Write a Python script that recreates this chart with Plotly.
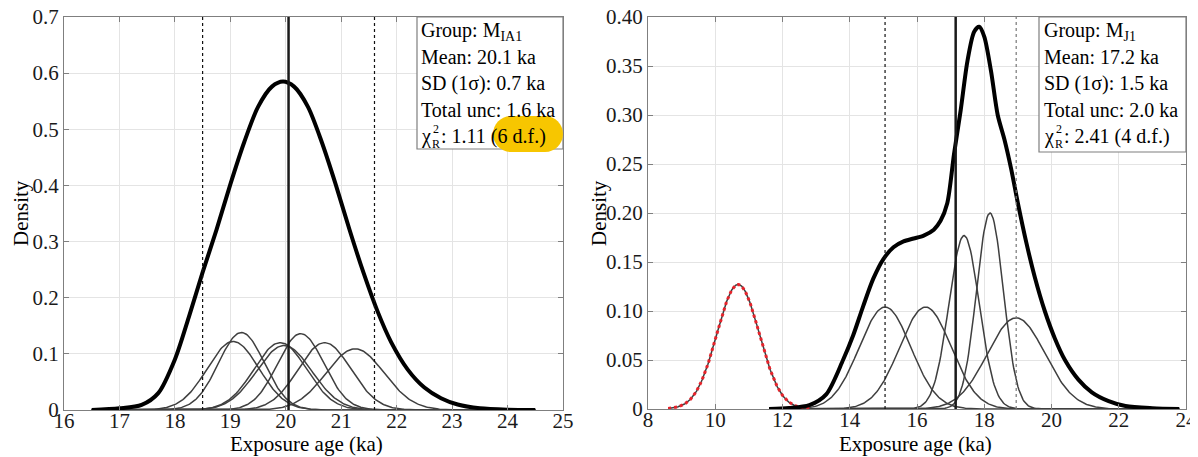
import numpy as np
import plotly.graph_objects as go

W, H = 1198, 457
OFF = 8  # page body margin in the browser

# ---------------- data ----------------
# Left panel: group M_IA1
left_ages = [19.05, 19.2, 19.9, 19.97, 20.27, 20.7, 21.25]
left_sd = [0.467, 0.413, 0.475, 0.496, 0.419, 0.475, 0.523]
left_sum_x = [16.5, 17.0, 17.4, 17.7, 18.0, 18.25, 18.5, 18.75, 19.0, 19.25, 19.5, 19.75,
              19.95, 20.15, 20.4, 20.65, 20.9, 21.15, 21.4, 21.65, 21.9, 22.2, 22.5, 22.8,
              23.1, 23.5, 24.0, 24.5]
left_sum_y = [0.0, 0.003, 0.009, 0.03, 0.09, 0.165, 0.245, 0.321, 0.402, 0.477, 0.540, 0.576,
              0.585, 0.576, 0.540, 0.477, 0.402, 0.321, 0.245, 0.177, 0.121, 0.072, 0.040, 0.021,
              0.0098, 0.0031, 0.0006, 0.0]
left_mean = 20.05
left_unc = [18.5, 21.6]
left_xticks = list(range(16, 26))
left_yticks = [0, 0.1, 0.2, 0.3, 0.4, 0.5, 0.6, 0.7]
left_yticktext = ["0", "0.1", "0.2", "0.3", "0.4", "0.5", "0.6", "0.7"]
left_text = ["Group: M<sub>IA1</sub>", "Mean: 20.1 ka", "SD (1σ): 0.7 ka", "Total unc: 1.6 ka",
             ": 1.11 (6 d.f.)"]

# Right panel: group M_J1
right_ages = [15.05, 16.25, 17.4, 18.17, 18.95]
right_sd = [0.767, 0.767, 0.451, 0.399, 0.858]
outlier_age = 10.68
outlier_sd = 0.628
right_sum_x = [11.6, 12.2, 12.8, 13.3, 13.8, 14.1, 14.4, 14.7, 15.0, 15.3, 15.6, 15.9, 16.2,
               16.5, 16.7, 16.9, 17.1, 17.3, 17.5, 17.7, 17.85, 18.0, 18.2, 18.4, 18.6, 18.8,
               19.0, 19.25, 19.5, 19.8, 20.1, 20.4, 20.8, 21.2, 21.7, 22.2, 23.0, 23.8]
right_sum_y = [0.0, 0.001, 0.004, 0.015, 0.05, 0.075, 0.105, 0.133, 0.153, 0.165, 0.171, 0.174,
               0.177, 0.183, 0.192, 0.21, 0.26, 0.305, 0.355, 0.385, 0.39, 0.38, 0.345, 0.30,
               0.275, 0.245, 0.21, 0.17, 0.135, 0.10, 0.072, 0.05, 0.03, 0.017, 0.008, 0.003,
               0.0008, 0.0]
right_mean = 17.15
right_unc = [15.05, 18.95]
right_xticks = list(range(8, 25, 2))
right_yticks = [0, 0.05, 0.10, 0.15, 0.20, 0.25, 0.30, 0.35, 0.40]
right_yticktext = ["0", "0.05", "0.10", "0.15", "0.20", "0.25", "0.30", "0.35", "0.40"]
right_text = ["Group: M<sub>J1</sub>", "Mean: 17.2 ka", "SD (1σ): 1.5 ka", "Total unc: 2.0 ka",
              ": 2.41 (4 d.f.)"]

# ---------------- helpers ----------------
def pdf(x, m, s, n):
    return np.exp(-0.5 * ((x - m) / s) ** 2) / (s * np.sqrt(2 * np.pi)) / n

def PX(px):
    return (px - OFF) / W

def PY(py):
    return 1 - (py - OFF) / H

FONT = "Liberation Serif"
THIN = "#3f3f3f"

fig = go.Figure()

# left thin curves
xl = np.linspace(16.5, 24.5, 400)
for m, s in zip(left_ages, left_sd):
    fig.add_trace(go.Scatter(x=xl, y=pdf(xl, m, s, len(left_ages)), mode="lines",
                             line=dict(color=THIN, width=1.5), xaxis="x", yaxis="y",
                             showlegend=False, hoverinfo="skip"))
fig.add_trace(go.Scatter(x=left_sum_x, y=left_sum_y, mode="lines",
                         line=dict(color="black", width=4, shape="spline", smoothing=0.8),
                         xaxis="x", yaxis="y", showlegend=False))

# right thin curves
n_r = len(right_ages)
xr = np.linspace(11.6, 23.8, 400)
for m, s in zip(right_ages, right_sd):
    fig.add_trace(go.Scatter(x=xr, y=pdf(xr, m, s, n_r), mode="lines",
                             line=dict(color=THIN, width=1.5), xaxis="x2", yaxis="y2",
                             showlegend=False, hoverinfo="skip"))
xo = np.linspace(8.6, 12.8, 200)
fig.add_trace(go.Scatter(x=xo, y=pdf(xo, outlier_age, outlier_sd, n_r), mode="lines",
                         line=dict(color=THIN, width=1.5), xaxis="x2", yaxis="y2",
                         showlegend=False))
fig.add_trace(go.Scatter(x=xo, y=pdf(xo, outlier_age, outlier_sd, n_r), mode="lines",
                         line=dict(color="#e8232b", width=3, dash="dot"), xaxis="x2", yaxis="y2",
                         showlegend=False))
fig.add_trace(go.Scatter(x=right_sum_x, y=right_sum_y, mode="lines",
                         line=dict(color="black", width=4, shape="spline", smoothing=0.8),
                         xaxis="x2", yaxis="y2", showlegend=False))

shapes = []
# mean / uncertainty lines
for xref, yref, mean, unc, cols in [("x", "y domain", left_mean, left_unc, ["#111", "#111"]),
                                    ("x2", "y2 domain", right_mean, right_unc, ["#111", "#777"])]:
    shapes.append(dict(type="line", xref=xref, yref=yref, x0=mean, x1=mean, y0=0, y1=1,
                       line=dict(color="#1a1a1a", width=2.5)))
    for u, c in zip(unc, cols):
        shapes.append(dict(type="line", xref=xref, yref=yref, x0=u, x1=u, y0=0, y1=1,
                           line=dict(color=c, width=1.2, dash="3px,3px")))

# text boxes (white filled)
for (bx0, by0, bx1, by1) in [(417, 17, 563, 149), (1039, 17, 1186, 152)]:
    shapes.append(dict(type="rect", xref="paper", yref="paper",
                       x0=PX(bx0), x1=PX(bx1), y0=PY(by1), y1=PY(by0),
                       fillcolor="white", line=dict(color="#7f7f7f", width=1.2), layer="above"))

# yellow highlight pill
x0, x1, y0, y1 = 493, 563, 116, 152
r = (y1 - y0) / 2
k = 0.5523
ym = (y0 + y1) / 2
pts = [
    ("M", [(x0 + r, y0)]),
    ("L", [(x1 - r, y0)]),
    ("C", [(x1 - r + k * r, y0), (x1, ym - k * r), (x1, ym)]),
    ("C", [(x1, ym + k * r), (x1 - r + k * r, y1), (x1 - r, y1)]),
    ("L", [(x0 + r, y1)]),
    ("C", [(x0 + r - k * r, y1), (x0, ym + k * r), (x0, ym)]),
    ("C", [(x0, ym - k * r), (x0 + r - k * r, y0), (x0 + r, y0)]),
]
path = ""
for cmd, ps in pts:
    path += cmd + " " + " ".join(f"{PX(a):.5f},{PY(b):.5f}" for a, b in ps) + " "
path += "Z"
shapes.append(dict(type="path", xref="paper", yref="paper", path=path,
                   fillcolor="#f7c600", line=dict(width=0), layer="above"))

annotations = []
line_y = [31, 57, 84, 110, 136]
for tx, lines in [(419, left_text), (1042, right_text)]:
    for i, t in enumerate(lines[:4]):
        annotations.append(dict(xref="paper", yref="paper", x=PX(tx), y=PY(line_y[i]),
                                text=t, showarrow=False, xanchor="left", yanchor="middle",
                                font=dict(family=FONT, size=20, color="black")))
    # chi^2_R line
    annotations.append(dict(xref="paper", yref="paper", x=PX(tx), y=PY(line_y[4]),
                            text="χ", showarrow=False, xanchor="left", yanchor="middle",
                            font=dict(family=FONT, size=20, color="black")))
    annotations.append(dict(xref="paper", yref="paper", x=PX(tx + 12), y=PY(line_y[4] - 7),
                            text="2", showarrow=False, xanchor="left", yanchor="middle",
                            font=dict(family=FONT, size=12, color="black")))
    annotations.append(dict(xref="paper", yref="paper", x=PX(tx + 11), y=PY(line_y[4] + 8),
                            text="R", showarrow=False, xanchor="left", yanchor="middle",
                            font=dict(family=FONT, size=12, color="black")))
    annotations.append(dict(xref="paper", yref="paper", x=PX(tx + 20), y=PY(line_y[4]),
                            text=lines[4], showarrow=False, xanchor="left", yanchor="middle",
                            font=dict(family=FONT, size=20, color="black")))

# axis titles
for x, y, t, ang in [(306, 444, "Exposure age (ka)", 0), (915, 444, "Exposure age (ka)", 0),
                     (21, 213, "Density", -90), (599, 213, "Density", -90)]:
    annotations.append(dict(xref="paper", yref="paper", x=PX(x), y=PY(y), text=t,
                            showarrow=False, xanchor="center", yanchor="middle", textangle=ang,
                            font=dict(family=FONT, size=21, color="black")))

axis_common = dict(showline=True, linecolor="#7f7f7f", linewidth=1.3, mirror="allticks",
                   ticks="inside", ticklen=5, tickcolor="#7f7f7f", tickwidth=1,
                   showgrid=True, gridcolor="#e4e4e4", gridwidth=1, zeroline=False,
                   automargin=False, ticklabeloverflow="allow",
                   tickfont=dict(family=FONT, size=21, color="#1a1a1a"))

fig.update_layout(
    width=W, height=H, margin=dict(l=0, r=0, t=0, b=0),
    paper_bgcolor="white", plot_bgcolor="white", showlegend=False,
    xaxis=dict(domain=[PX(64), PX(563)], range=[16, 25], tickvals=left_xticks,
               anchor="y", ticklabelstandoff=-8, **axis_common),
    yaxis=dict(domain=[PY(410), PY(17)], range=[0, 0.7], tickvals=left_yticks,
               ticktext=left_yticktext, anchor="x", **axis_common),
    xaxis2=dict(domain=[PX(648), PX(1186)], range=[8, 24], tickvals=right_xticks,
                anchor="y2", ticklabelstandoff=-8, **axis_common),
    yaxis2=dict(domain=[PY(409), PY(17)], range=[0, 0.4], tickvals=right_yticks,
                ticktext=right_yticktext, anchor="x2", **axis_common),
    shapes=shapes, annotations=annotations,
)

fig.write_html("out.html")
